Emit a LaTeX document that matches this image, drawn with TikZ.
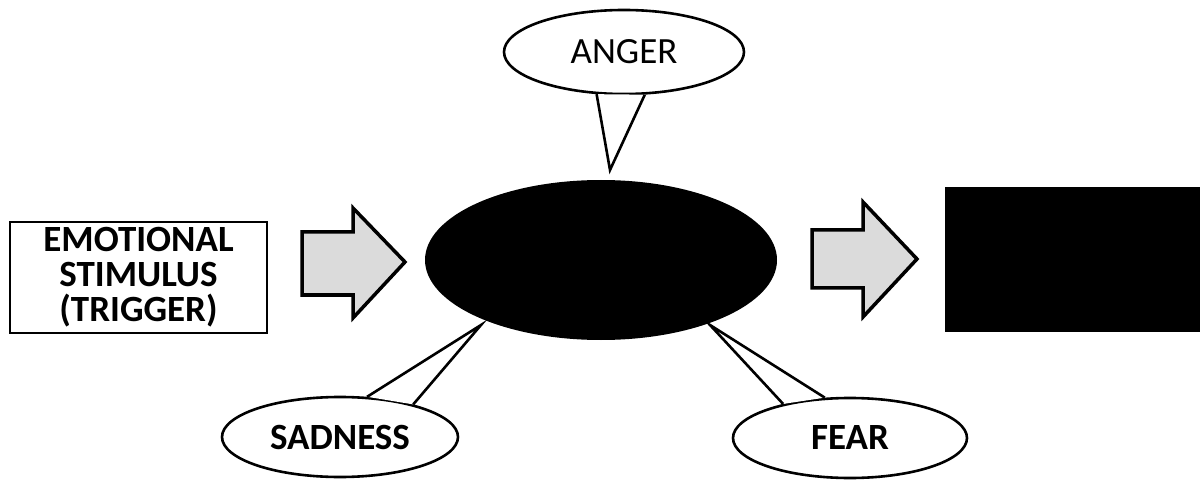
\documentclass[tikz,border=0pt]{standalone}
\usepackage{fontspec}
\setmainfont{Carlito}
\usetikzlibrary{shapes.geometric}
\begin{document}
\begin{tikzpicture}[x=1pt,y=-1pt,
  bubble/.style={ellipse, draw, line width=2.6pt, fill=white, inner sep=0pt, font=\fontsize{37}{37}\selectfont},
  tail/.style={line width=2.6pt, line join=miter},
  blockarrow/.style={draw, line width=3.5pt, fill=gray!28, line join=miter},
  boxnode/.style={draw, line width=2.6pt, align=center, inner sep=0pt, font=\bfseries\fontsize{37}{35}\selectfont}]
\useasboundingbox (0,0) rectangle (1200,481);

% left box
\node[boxnode, minimum width=257pt, minimum height=111pt] (stim) at (138.5,277.5) {EMOTIONAL\\STIMULUS\\(TRIGGER)};

% central ellipse
\node[ellipse, fill=black, minimum width=352pt, minimum height=160pt, inner sep=0pt] (emo) at (601,260) {};

% right black box
\node[fill=black, minimum width=255pt, minimum height=145pt, inner sep=0pt, anchor=north west] (resp) at (945,187) {};

% block arrows
\coordinate (a1) at (302,263);
\draw[blockarrow] (a1) ++(0,-31) -- ++(51,0) -- ++(0,-24) -- (405,262) -- (353,318) -- ++(0,-23) -- ++(-51,0) -- cycle;
\coordinate (a2) at (812,259);
\draw[blockarrow] (a2) ++(0,-29) -- ++(51,0) -- ++(0,-28) -- (917,259) -- (863,317) -- ++(0,-29) -- ++(-51,0) -- cycle;

% callouts
\node[bubble, minimum width=240pt, minimum height=84pt] (anger) at (624,52) {ANGER};
\node[bubble, minimum width=236pt, minimum height=80pt, font=\bfseries\fontsize{37}{37}\selectfont] (sad) at (340,437) {SADNESS};
\node[bubble, minimum width=234pt, minimum height=80pt, font=\bfseries\fontsize{37}{37}\selectfont] (fear) at (850,438) {FEAR};

\coordinate (angertip) at (610,170);
\coordinate (sadtip) at (481,325);
\coordinate (feartip) at (710,325);

\fill[white] (anger.237.7) -- (angertip) -- (anger.296.6) -- cycle;
\draw[tail] (anger.237.7) -- (angertip) -- (anger.296.6);

\fill[white] (sad.56.7) -- (sadtip) -- (sad.24.1) -- cycle;
\draw[tail] (sad.56.7) -- (sadtip) -- (sad.24.1);

\fill[white] (fear.153.8) -- (feartip) -- (fear.122.7) -- cycle;
\draw[tail] (fear.153.8) -- (feartip) -- (fear.122.7);
\end{tikzpicture}
\end{document}
